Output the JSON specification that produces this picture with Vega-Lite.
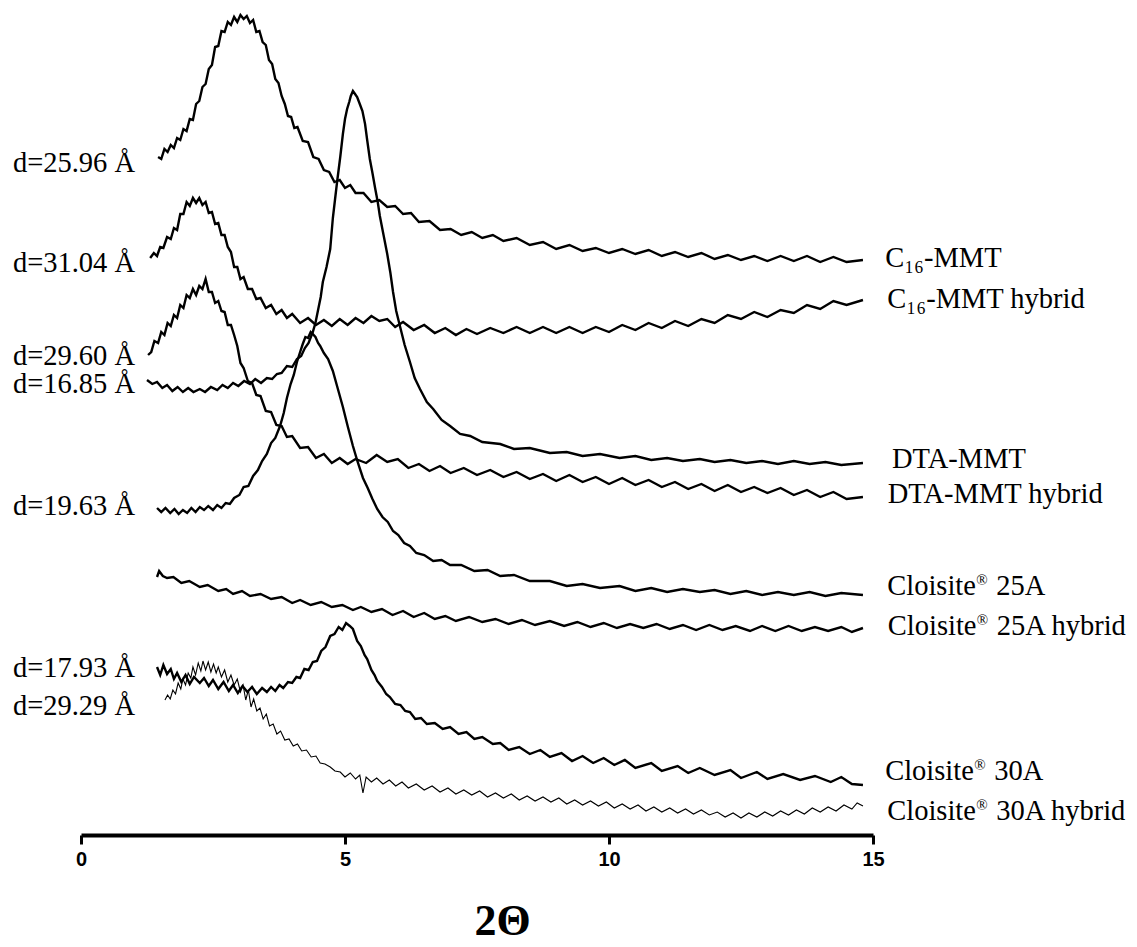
{
"$schema": "https://vega.github.io/schema/vega-lite/v6.json",
"width": 792,
"height": 835,
"autosize": "none",
"padding": {"left": 81, "top": 0, "right": 264, "bottom": 112},
"config": {"view": {"stroke": null}, "background": "white"},
"datasets": {
"curves": [
{"s":"a","x":1.46,"y":678},{"s":"a","x":1.52,"y":676},{"s":"a","x":1.58,"y":686},{"s":"a","x":1.64,"y":683},{"s":"a","x":1.70,"y":690},{"s":"a","x":1.76,"y":687},{"s":"a","x":1.82,"y":697},{"s":"a","x":1.88,"y":695},{"s":"a","x":1.94,"y":706},{"s":"a","x":2.0,"y":704},{"s":"a","x":2.06,"y":716},{"s":"a","x":2.12,"y":715},{"s":"a","x":2.18,"y":731},{"s":"a","x":2.24,"y":734},{"s":"a","x":2.30,"y":748},{"s":"a","x":2.36,"y":751},{"s":"a","x":2.42,"y":766},{"s":"a","x":2.48,"y":770},{"s":"a","x":2.54,"y":788},{"s":"a","x":2.60,"y":789},{"s":"a","x":2.66,"y":804},{"s":"a","x":2.72,"y":803},{"s":"a","x":2.78,"y":813},{"s":"a","x":2.84,"y":810},{"s":"a","x":2.90,"y":818},{"s":"a","x":2.96,"y":813},{"s":"a","x":3.02,"y":820},{"s":"a","x":3.08,"y":816},{"s":"a","x":3.14,"y":819},{"s":"a","x":3.20,"y":812},{"s":"a","x":3.26,"y":815},{"s":"a","x":3.32,"y":803},{"s":"a","x":3.38,"y":804},{"s":"a","x":3.44,"y":793},{"s":"a","x":3.50,"y":790},{"s":"a","x":3.56,"y":775},{"s":"a","x":3.62,"y":771},{"s":"a","x":3.68,"y":756},{"s":"a","x":3.74,"y":752},{"s":"a","x":3.80,"y":739},{"s":"a","x":3.86,"y":731},{"s":"a","x":3.92,"y":719},{"s":"a","x":3.98,"y":718},{"s":"a","x":4.04,"y":707},{"s":"a","x":4.10,"y":708},{"s":"a","x":4.2,"y":694},{"s":"a","x":4.3,"y":693},{"s":"a","x":4.4,"y":678},{"s":"a","x":4.5,"y":676},{"s":"a","x":4.6,"y":665},{"s":"a","x":4.7,"y":663},{"s":"a","x":4.8,"y":653},{"s":"a","x":4.9,"y":655},{"s":"a","x":5.0,"y":647},{"s":"a","x":5.1,"y":650},{"s":"a","x":5.2,"y":642},{"s":"a","x":5.35,"y":642},{"s":"a","x":5.5,"y":633},{"s":"a","x":5.65,"y":635},{"s":"a","x":5.8,"y":628},{"s":"a","x":5.95,"y":629},{"s":"a","x":6.1,"y":621},{"s":"a","x":6.25,"y":622},{"s":"a","x":6.4,"y":613},{"s":"a","x":6.6,"y":614},{"s":"a","x":6.8,"y":605},{"s":"a","x":7.0,"y":606},{"s":"a","x":7.2,"y":600},{"s":"a","x":7.4,"y":603},{"s":"a","x":7.6,"y":597},{"s":"a","x":7.8,"y":600},{"s":"a","x":8.0,"y":594},{"s":"a","x":8.25,"y":597},{"s":"a","x":8.5,"y":590},{"s":"a","x":8.75,"y":593},{"s":"a","x":9.0,"y":586},{"s":"a","x":9.25,"y":590},{"s":"a","x":9.5,"y":584},{"s":"a","x":9.75,"y":587},{"s":"a","x":10.0,"y":582},{"s":"a","x":10.25,"y":586},{"s":"a","x":10.5,"y":581},{"s":"a","x":10.75,"y":585},{"s":"a","x":11.0,"y":579},{"s":"a","x":11.25,"y":583},{"s":"a","x":11.5,"y":578},{"s":"a","x":11.75,"y":582},{"s":"a","x":12.0,"y":576},{"s":"a","x":12.25,"y":580},{"s":"a","x":12.5,"y":575},{"s":"a","x":12.75,"y":579},{"s":"a","x":13.0,"y":574},{"s":"a","x":13.25,"y":579},{"s":"a","x":13.5,"y":574},{"s":"a","x":13.75,"y":579},{"s":"a","x":14.0,"y":573},{"s":"a","x":14.25,"y":578},{"s":"a","x":14.5,"y":573},{"s":"a","x":14.81,"y":575},
{"s":"b","x":1.31,"y":577},{"s":"b","x":1.38,"y":582},{"s":"b","x":1.44,"y":579},{"s":"b","x":1.5,"y":588},{"s":"b","x":1.56,"y":587},{"s":"b","x":1.63,"y":598},{"s":"b","x":1.7,"y":596},{"s":"b","x":1.76,"y":607},{"s":"b","x":1.82,"y":605},{"s":"b","x":1.88,"y":621},{"s":"b","x":1.94,"y":621},{"s":"b","x":2.0,"y":633},{"s":"b","x":2.06,"y":629},{"s":"b","x":2.12,"y":637},{"s":"b","x":2.18,"y":632},{"s":"b","x":2.24,"y":637},{"s":"b","x":2.3,"y":630},{"s":"b","x":2.36,"y":633},{"s":"b","x":2.42,"y":622},{"s":"b","x":2.48,"y":623},{"s":"b","x":2.54,"y":611},{"s":"b","x":2.6,"y":612},{"s":"b","x":2.66,"y":600},{"s":"b","x":2.72,"y":600},{"s":"b","x":2.78,"y":588},{"s":"b","x":2.84,"y":583},{"s":"b","x":2.9,"y":568},{"s":"b","x":2.96,"y":568},{"s":"b","x":3.02,"y":556},{"s":"b","x":3.08,"y":558},{"s":"b","x":3.16,"y":546},{"s":"b","x":3.24,"y":546},{"s":"b","x":3.32,"y":536},{"s":"b","x":3.4,"y":537},{"s":"b","x":3.5,"y":527},{"s":"b","x":3.6,"y":530},{"s":"b","x":3.7,"y":521},{"s":"b","x":3.8,"y":525},{"s":"b","x":3.9,"y":517},{"s":"b","x":4.0,"y":521},{"s":"b","x":4.15,"y":512},{"s":"b","x":4.3,"y":517},{"s":"b","x":4.45,"y":510},{"s":"b","x":4.6,"y":515},{"s":"b","x":4.75,"y":509},{"s":"b","x":4.9,"y":516},{"s":"b","x":5.05,"y":510},{"s":"b","x":5.2,"y":517},{"s":"b","x":5.35,"y":512},{"s":"b","x":5.5,"y":519},{"s":"b","x":5.65,"y":514},{"s":"b","x":5.8,"y":516},{"s":"b","x":5.95,"y":508},{"s":"b","x":6.1,"y":513},{"s":"b","x":6.3,"y":505},{"s":"b","x":6.5,"y":510},{"s":"b","x":6.7,"y":502},{"s":"b","x":6.9,"y":507},{"s":"b","x":7.1,"y":500},{"s":"b","x":7.3,"y":506},{"s":"b","x":7.5,"y":501},{"s":"b","x":7.75,"y":507},{"s":"b","x":8.0,"y":502},{"s":"b","x":8.25,"y":508},{"s":"b","x":8.5,"y":502},{"s":"b","x":8.75,"y":508},{"s":"b","x":9.0,"y":502},{"s":"b","x":9.25,"y":508},{"s":"b","x":9.5,"y":502},{"s":"b","x":9.75,"y":508},{"s":"b","x":10.0,"y":503},{"s":"b","x":10.25,"y":510},{"s":"b","x":10.5,"y":505},{"s":"b","x":10.75,"y":512},{"s":"b","x":11.0,"y":507},{"s":"b","x":11.25,"y":514},{"s":"b","x":11.5,"y":509},{"s":"b","x":11.75,"y":516},{"s":"b","x":12.0,"y":512},{"s":"b","x":12.25,"y":520},{"s":"b","x":12.5,"y":516},{"s":"b","x":12.75,"y":523},{"s":"b","x":13.0,"y":518},{"s":"b","x":13.25,"y":525},{"s":"b","x":13.5,"y":522},{"s":"b","x":13.75,"y":530},{"s":"b","x":14.0,"y":526},{"s":"b","x":14.25,"y":534},{"s":"b","x":14.5,"y":530},{"s":"b","x":14.81,"y":535},
{"s":"c","x":1.27,"y":480},{"s":"c","x":1.33,"y":483},{"s":"c","x":1.39,"y":494},{"s":"c","x":1.46,"y":492},{"s":"c","x":1.52,"y":503},{"s":"c","x":1.58,"y":500},{"s":"c","x":1.64,"y":512},{"s":"c","x":1.7,"y":509},{"s":"c","x":1.76,"y":520},{"s":"c","x":1.82,"y":517},{"s":"c","x":1.88,"y":530},{"s":"c","x":1.94,"y":527},{"s":"c","x":2.0,"y":540},{"s":"c","x":2.06,"y":537},{"s":"c","x":2.12,"y":546},{"s":"c","x":2.18,"y":540},{"s":"c","x":2.24,"y":549},{"s":"c","x":2.3,"y":546},{"s":"c","x":2.36,"y":556},{"s":"c","x":2.42,"y":543},{"s":"c","x":2.48,"y":543},{"s":"c","x":2.54,"y":532},{"s":"c","x":2.6,"y":534},{"s":"c","x":2.66,"y":524},{"s":"c","x":2.72,"y":523},{"s":"c","x":2.78,"y":510},{"s":"c","x":2.84,"y":510},{"s":"c","x":2.9,"y":500},{"s":"c","x":2.96,"y":489},{"s":"c","x":3.02,"y":472},{"s":"c","x":3.08,"y":467},{"s":"c","x":3.16,"y":454},{"s":"c","x":3.24,"y":452},{"s":"c","x":3.32,"y":440},{"s":"c","x":3.4,"y":439},{"s":"c","x":3.5,"y":424},{"s":"c","x":3.6,"y":423},{"s":"c","x":3.7,"y":410},{"s":"c","x":3.8,"y":409},{"s":"c","x":3.9,"y":398},{"s":"c","x":4.0,"y":399},{"s":"c","x":4.15,"y":387},{"s":"c","x":4.3,"y":388},{"s":"c","x":4.45,"y":377},{"s":"c","x":4.6,"y":381},{"s":"c","x":4.75,"y":372},{"s":"c","x":4.9,"y":377},{"s":"c","x":5.05,"y":371},{"s":"c","x":5.2,"y":376},{"s":"c","x":5.4,"y":372},{"s":"c","x":5.6,"y":380},{"s":"c","x":5.8,"y":373},{"s":"c","x":6.0,"y":376},{"s":"c","x":6.2,"y":367},{"s":"c","x":6.4,"y":371},{"s":"c","x":6.6,"y":364},{"s":"c","x":6.8,"y":369},{"s":"c","x":7.0,"y":362},{"s":"c","x":7.25,"y":367},{"s":"c","x":7.5,"y":360},{"s":"c","x":7.75,"y":365},{"s":"c","x":8.0,"y":358},{"s":"c","x":8.25,"y":363},{"s":"c","x":8.5,"y":356},{"s":"c","x":8.75,"y":361},{"s":"c","x":9.0,"y":354},{"s":"c","x":9.25,"y":360},{"s":"c","x":9.5,"y":353},{"s":"c","x":9.75,"y":358},{"s":"c","x":10.0,"y":351},{"s":"c","x":10.25,"y":357},{"s":"c","x":10.5,"y":350},{"s":"c","x":10.75,"y":355},{"s":"c","x":11.0,"y":348},{"s":"c","x":11.25,"y":353},{"s":"c","x":11.5,"y":346},{"s":"c","x":11.75,"y":351},{"s":"c","x":12.0,"y":344},{"s":"c","x":12.25,"y":350},{"s":"c","x":12.5,"y":343},{"s":"c","x":12.75,"y":348},{"s":"c","x":13.0,"y":342},{"s":"c","x":13.25,"y":347},{"s":"c","x":13.5,"y":340},{"s":"c","x":13.75,"y":345},{"s":"c","x":14.0,"y":338},{"s":"c","x":14.25,"y":343},{"s":"c","x":14.5,"y":336},{"s":"c","x":14.81,"y":338},
{"s":"d","x":1.25,"y":455},{"s":"d","x":1.35,"y":451},{"s":"d","x":1.44,"y":453},{"s":"d","x":1.54,"y":447},{"s":"d","x":1.63,"y":450},{"s":"d","x":1.73,"y":444},{"s":"d","x":1.83,"y":448},{"s":"d","x":1.93,"y":443},{"s":"d","x":2.03,"y":447},{"s":"d","x":2.13,"y":443},{"s":"d","x":2.25,"y":446},{"s":"d","x":2.35,"y":443},{"s":"d","x":2.46,"y":448},{"s":"d","x":2.58,"y":445},{"s":"d","x":2.68,"y":450},{"s":"d","x":2.78,"y":447},{"s":"d","x":2.88,"y":452},{"s":"d","x":2.98,"y":449},{"s":"d","x":3.09,"y":454},{"s":"d","x":3.2,"y":451},{"s":"d","x":3.3,"y":456},{"s":"d","x":3.41,"y":452},{"s":"d","x":3.52,"y":457},{"s":"d","x":3.62,"y":456},{"s":"d","x":3.71,"y":461},{"s":"d","x":3.8,"y":462},{"s":"d","x":3.9,"y":469},{"s":"d","x":4.0,"y":468},{"s":"d","x":4.09,"y":476},{"s":"d","x":4.17,"y":479},{"s":"d","x":4.24,"y":487},{"s":"d","x":4.31,"y":492},{"s":"d","x":4.39,"y":503},{"s":"d","x":4.44,"y":512},{"s":"d","x":4.49,"y":525},{"s":"d","x":4.54,"y":538},{"s":"d","x":4.58,"y":553},{"s":"d","x":4.65,"y":568},{"s":"d","x":4.72,"y":586},{"s":"d","x":4.77,"y":617},{"s":"d","x":4.81,"y":635},{"s":"d","x":4.85,"y":653},{"s":"d","x":4.91,"y":678},{"s":"d","x":4.96,"y":701},{"s":"d","x":5.0,"y":716},{"s":"d","x":5.04,"y":726},{"s":"d","x":5.08,"y":733},{"s":"d","x":5.11,"y":739},{"s":"d","x":5.15,"y":744},{"s":"d","x":5.19,"y":741},{"s":"d","x":5.23,"y":738},{"s":"d","x":5.28,"y":731},{"s":"d","x":5.33,"y":724},{"s":"d","x":5.38,"y":711},{"s":"d","x":5.42,"y":695},{"s":"d","x":5.47,"y":676},{"s":"d","x":5.52,"y":662},{"s":"d","x":5.57,"y":647},{"s":"d","x":5.62,"y":633},{"s":"d","x":5.66,"y":619},{"s":"d","x":5.73,"y":600},{"s":"d","x":5.8,"y":581},{"s":"d","x":5.86,"y":562},{"s":"d","x":5.91,"y":543},{"s":"d","x":5.97,"y":524},{"s":"d","x":6.04,"y":509},{"s":"d","x":6.13,"y":490},{"s":"d","x":6.23,"y":473},{"s":"d","x":6.32,"y":457},{"s":"d","x":6.42,"y":446},{"s":"d","x":6.55,"y":433},{"s":"d","x":6.67,"y":426},{"s":"d","x":6.83,"y":415},{"s":"d","x":6.99,"y":409},{"s":"d","x":7.18,"y":401},{"s":"d","x":7.37,"y":399},{"s":"d","x":7.6,"y":393},{"s":"d","x":7.94,"y":391},{"s":"d","x":8.2,"y":386},{"s":"d","x":8.5,"y":387},{"s":"d","x":8.88,"y":382},{"s":"d","x":9.2,"y":383},{"s":"d","x":9.5,"y":379},{"s":"d","x":9.83,"y":381},{"s":"d","x":10.2,"y":377},{"s":"d","x":10.5,"y":379},{"s":"d","x":10.8,"y":375},{"s":"d","x":11.1,"y":377},{"s":"d","x":11.4,"y":374},{"s":"d","x":11.72,"y":376},{"s":"d","x":12.0,"y":373},{"s":"d","x":12.3,"y":375},{"s":"d","x":12.6,"y":372},{"s":"d","x":12.9,"y":374},{"s":"d","x":13.2,"y":371},{"s":"d","x":13.5,"y":374},{"s":"d","x":13.8,"y":371},{"s":"d","x":14.1,"y":373},{"s":"d","x":14.4,"y":370},{"s":"d","x":14.81,"y":372},
{"s":"e","x":1.44,"y":327},{"s":"e","x":1.52,"y":323},{"s":"e","x":1.6,"y":327},{"s":"e","x":1.69,"y":322},{"s":"e","x":1.77,"y":326},{"s":"e","x":1.85,"y":321},{"s":"e","x":1.93,"y":325},{"s":"e","x":2.01,"y":322},{"s":"e","x":2.09,"y":327},{"s":"e","x":2.17,"y":323},{"s":"e","x":2.25,"y":328},{"s":"e","x":2.33,"y":325},{"s":"e","x":2.41,"y":329},{"s":"e","x":2.5,"y":325},{"s":"e","x":2.58,"y":330},{"s":"e","x":2.66,"y":327},{"s":"e","x":2.74,"y":332},{"s":"e","x":2.82,"y":331},{"s":"e","x":2.9,"y":337},{"s":"e","x":3.0,"y":340},{"s":"e","x":3.08,"y":348},{"s":"e","x":3.17,"y":349},{"s":"e","x":3.26,"y":359},{"s":"e","x":3.35,"y":365},{"s":"e","x":3.43,"y":374},{"s":"e","x":3.52,"y":381},{"s":"e","x":3.6,"y":392},{"s":"e","x":3.68,"y":397},{"s":"e","x":3.77,"y":409},{"s":"e","x":3.84,"y":422},{"s":"e","x":3.9,"y":437},{"s":"e","x":3.97,"y":451},{"s":"e","x":4.03,"y":460},{"s":"e","x":4.09,"y":473},{"s":"e","x":4.15,"y":483},{"s":"e","x":4.2,"y":491},{"s":"e","x":4.25,"y":498},{"s":"e","x":4.3,"y":497},{"s":"e","x":4.35,"y":503},{"s":"e","x":4.39,"y":501},{"s":"e","x":4.44,"y":498},{"s":"e","x":4.49,"y":492},{"s":"e","x":4.53,"y":489},{"s":"e","x":4.6,"y":482},{"s":"e","x":4.68,"y":476},{"s":"e","x":4.77,"y":464},{"s":"e","x":4.86,"y":447},{"s":"e","x":4.96,"y":428},{"s":"e","x":5.05,"y":409},{"s":"e","x":5.15,"y":389},{"s":"e","x":5.24,"y":373},{"s":"e","x":5.34,"y":357},{"s":"e","x":5.43,"y":347},{"s":"e","x":5.52,"y":336},{"s":"e","x":5.61,"y":326},{"s":"e","x":5.71,"y":318},{"s":"e","x":5.81,"y":313},{"s":"e","x":5.91,"y":304},{"s":"e","x":6.01,"y":300},{"s":"e","x":6.12,"y":292},{"s":"e","x":6.23,"y":289},{"s":"e","x":6.35,"y":282},{"s":"e","x":6.5,"y":280},{"s":"e","x":6.67,"y":274},{"s":"e","x":6.83,"y":275},{"s":"e","x":6.99,"y":270},{"s":"e","x":7.2,"y":270},{"s":"e","x":7.45,"y":264},{"s":"e","x":7.7,"y":265},{"s":"e","x":7.94,"y":259},{"s":"e","x":8.2,"y":260},{"s":"e","x":8.5,"y":254},{"s":"e","x":8.88,"y":254},{"s":"e","x":9.2,"y":249},{"s":"e","x":9.5,"y":251},{"s":"e","x":9.83,"y":247},{"s":"e","x":10.2,"y":249},{"s":"e","x":10.5,"y":244},{"s":"e","x":10.8,"y":247},{"s":"e","x":11.1,"y":243},{"s":"e","x":11.4,"y":246},{"s":"e","x":11.72,"y":243},{"s":"e","x":12.0,"y":245},{"s":"e","x":12.3,"y":241},{"s":"e","x":12.6,"y":244},{"s":"e","x":12.9,"y":240},{"s":"e","x":13.2,"y":243},{"s":"e","x":13.5,"y":240},{"s":"e","x":13.8,"y":243},{"s":"e","x":14.1,"y":239},{"s":"e","x":14.4,"y":242},{"s":"e","x":14.81,"y":240},
{"s":"f","x":1.44,"y":258},{"s":"f","x":1.48,"y":264},{"s":"f","x":1.55,"y":259},{"s":"f","x":1.63,"y":257},{"s":"f","x":1.75,"y":258},{"s":"f","x":1.9,"y":252},{"s":"f","x":2.05,"y":254},{"s":"f","x":2.25,"y":248},{"s":"f","x":2.4,"y":250},{"s":"f","x":2.6,"y":244},{"s":"f","x":2.75,"y":246},{"s":"f","x":2.88,"y":241},{"s":"f","x":3.05,"y":244},{"s":"f","x":3.2,"y":239},{"s":"f","x":3.4,"y":241},{"s":"f","x":3.6,"y":236},{"s":"f","x":3.8,"y":238},{"s":"f","x":4.0,"y":232},{"s":"f","x":4.15,"y":235},{"s":"f","x":4.35,"y":230},{"s":"f","x":4.55,"y":233},{"s":"f","x":4.75,"y":228},{"s":"f","x":4.95,"y":230},{"s":"f","x":5.15,"y":225},{"s":"f","x":5.3,"y":228},{"s":"f","x":5.5,"y":223},{"s":"f","x":5.7,"y":226},{"s":"f","x":5.9,"y":220},{"s":"f","x":6.1,"y":224},{"s":"f","x":6.3,"y":218},{"s":"f","x":6.5,"y":222},{"s":"f","x":6.7,"y":216},{"s":"f","x":6.9,"y":219},{"s":"f","x":7.1,"y":214},{"s":"f","x":7.35,"y":218},{"s":"f","x":7.6,"y":213},{"s":"f","x":7.85,"y":216},{"s":"f","x":8.1,"y":211},{"s":"f","x":8.35,"y":215},{"s":"f","x":8.6,"y":210},{"s":"f","x":8.88,"y":214},{"s":"f","x":9.15,"y":209},{"s":"f","x":9.4,"y":213},{"s":"f","x":9.65,"y":208},{"s":"f","x":9.9,"y":212},{"s":"f","x":10.15,"y":207},{"s":"f","x":10.4,"y":211},{"s":"f","x":10.65,"y":207},{"s":"f","x":10.9,"y":211},{"s":"f","x":11.15,"y":206},{"s":"f","x":11.4,"y":210},{"s":"f","x":11.65,"y":205},{"s":"f","x":11.9,"y":210},{"s":"f","x":12.15,"y":205},{"s":"f","x":12.4,"y":209},{"s":"f","x":12.67,"y":204},{"s":"f","x":12.9,"y":209},{"s":"f","x":13.15,"y":204},{"s":"f","x":13.4,"y":209},{"s":"f","x":13.65,"y":204},{"s":"f","x":13.9,"y":208},{"s":"f","x":14.15,"y":204},{"s":"f","x":14.4,"y":208},{"s":"f","x":14.6,"y":203},{"s":"f","x":14.81,"y":207},
{"s":"g","x":1.44,"y":168},{"s":"g","x":1.5,"y":160},{"s":"g","x":1.56,"y":170},{"s":"g","x":1.63,"y":161},{"s":"g","x":1.7,"y":166},{"s":"g","x":1.76,"y":156},{"s":"g","x":1.82,"y":162},{"s":"g","x":1.9,"y":153},{"s":"g","x":1.98,"y":160},{"s":"g","x":2.06,"y":151},{"s":"g","x":2.14,"y":158},{"s":"g","x":2.25,"y":152},{"s":"g","x":2.33,"y":157},{"s":"g","x":2.42,"y":149},{"s":"g","x":2.5,"y":155},{"s":"g","x":2.6,"y":146},{"s":"g","x":2.7,"y":153},{"s":"g","x":2.8,"y":144},{"s":"g","x":2.88,"y":150},{"s":"g","x":2.97,"y":142},{"s":"g","x":3.06,"y":149},{"s":"g","x":3.15,"y":143},{"s":"g","x":3.24,"y":148},{"s":"g","x":3.33,"y":141},{"s":"g","x":3.43,"y":147},{"s":"g","x":3.52,"y":143},{"s":"g","x":3.6,"y":148},{"s":"g","x":3.68,"y":144},{"s":"g","x":3.76,"y":150},{"s":"g","x":3.83,"y":147},{"s":"g","x":3.92,"y":153},{"s":"g","x":4.0,"y":152},{"s":"g","x":4.08,"y":158},{"s":"g","x":4.15,"y":157},{"s":"g","x":4.23,"y":166},{"s":"g","x":4.31,"y":165},{"s":"g","x":4.39,"y":173},{"s":"g","x":4.47,"y":174},{"s":"g","x":4.55,"y":184},{"s":"g","x":4.63,"y":188},{"s":"g","x":4.72,"y":199},{"s":"g","x":4.8,"y":201},{"s":"g","x":4.88,"y":208},{"s":"g","x":4.95,"y":205},{"s":"g","x":5.02,"y":212},{"s":"g","x":5.09,"y":209},{"s":"g","x":5.15,"y":206},{"s":"g","x":5.23,"y":194},{"s":"g","x":5.3,"y":189},{"s":"g","x":5.37,"y":180},{"s":"g","x":5.42,"y":176},{"s":"g","x":5.5,"y":165},{"s":"g","x":5.56,"y":160},{"s":"g","x":5.61,"y":154},{"s":"g","x":5.7,"y":148},{"s":"g","x":5.78,"y":141},{"s":"g","x":5.85,"y":138},{"s":"g","x":5.95,"y":131},{"s":"g","x":6.05,"y":130},{"s":"g","x":6.14,"y":124},{"s":"g","x":6.23,"y":123},{"s":"g","x":6.33,"y":116},{"s":"g","x":6.44,"y":117},{"s":"g","x":6.55,"y":111},{"s":"g","x":6.7,"y":112},{"s":"g","x":6.85,"y":106},{"s":"g","x":6.99,"y":108},{"s":"g","x":7.15,"y":101},{"s":"g","x":7.3,"y":103},{"s":"g","x":7.45,"y":96},{"s":"g","x":7.6,"y":98},{"s":"g","x":7.8,"y":91},{"s":"g","x":7.94,"y":92},{"s":"g","x":8.1,"y":85},{"s":"g","x":8.3,"y":88},{"s":"g","x":8.5,"y":81},{"s":"g","x":8.7,"y":85},{"s":"g","x":8.88,"y":78},{"s":"g","x":9.1,"y":82},{"s":"g","x":9.3,"y":74},{"s":"g","x":9.5,"y":79},{"s":"g","x":9.7,"y":72},{"s":"g","x":9.9,"y":77},{"s":"g","x":10.1,"y":70},{"s":"g","x":10.3,"y":75},{"s":"g","x":10.5,"y":67},{"s":"g","x":10.8,"y":72},{"s":"g","x":11.0,"y":64},{"s":"g","x":11.3,"y":69},{"s":"g","x":11.5,"y":62},{"s":"g","x":11.72,"y":67},{"s":"g","x":12.0,"y":60},{"s":"g","x":12.3,"y":65},{"s":"g","x":12.5,"y":57},{"s":"g","x":12.8,"y":63},{"s":"g","x":13.0,"y":56},{"s":"g","x":13.3,"y":61},{"s":"g","x":13.62,"y":55},{"s":"g","x":13.9,"y":59},{"s":"g","x":14.2,"y":53},{"s":"g","x":14.4,"y":58},{"s":"g","x":14.6,"y":51},{"s":"g","x":14.81,"y":50},
{"s":"h","x":1.59,"y":135},{"s":"h","x":1.64,"y":140},{"s":"h","x":1.69,"y":136},{"s":"h","x":1.74,"y":145},{"s":"h","x":1.79,"y":141},{"s":"h","x":1.84,"y":152},{"s":"h","x":1.89,"y":146},{"s":"h","x":1.93,"y":156},{"s":"h","x":1.98,"y":150},{"s":"h","x":2.03,"y":162},{"s":"h","x":2.08,"y":157},{"s":"h","x":2.12,"y":168},{"s":"h","x":2.17,"y":160},{"s":"h","x":2.22,"y":172},{"s":"h","x":2.27,"y":164},{"s":"h","x":2.31,"y":174},{"s":"h","x":2.36,"y":165},{"s":"h","x":2.41,"y":173},{"s":"h","x":2.46,"y":163},{"s":"h","x":2.51,"y":171},{"s":"h","x":2.56,"y":162},{"s":"h","x":2.6,"y":168},{"s":"h","x":2.66,"y":158},{"s":"h","x":2.72,"y":165},{"s":"h","x":2.78,"y":153},{"s":"h","x":2.84,"y":160},{"s":"h","x":2.9,"y":150},{"s":"h","x":2.96,"y":156},{"s":"h","x":3.02,"y":143},{"s":"h","x":3.07,"y":150},{"s":"h","x":3.12,"y":135},{"s":"h","x":3.17,"y":145},{"s":"h","x":3.22,"y":128},{"s":"h","x":3.27,"y":136},{"s":"h","x":3.33,"y":124},{"s":"h","x":3.39,"y":127},{"s":"h","x":3.45,"y":116},{"s":"h","x":3.51,"y":121},{"s":"h","x":3.57,"y":109},{"s":"h","x":3.64,"y":111},{"s":"h","x":3.71,"y":101},{"s":"h","x":3.78,"y":104},{"s":"h","x":3.86,"y":95},{"s":"h","x":3.94,"y":96},{"s":"h","x":4.02,"y":89},{"s":"h","x":4.1,"y":91},{"s":"h","x":4.18,"y":84},{"s":"h","x":4.27,"y":85},{"s":"h","x":4.36,"y":78},{"s":"h","x":4.45,"y":79},{"s":"h","x":4.53,"y":72},{"s":"h","x":4.62,"y":71},{"s":"h","x":4.72,"y":68},{"s":"h","x":4.81,"y":64},{"s":"h","x":4.91,"y":63},{"s":"h","x":5.0,"y":58},{"s":"h","x":5.1,"y":62},{"s":"h","x":5.2,"y":56},{"s":"h","x":5.28,"y":60},{"s":"h","x":5.34,"y":42},{"s":"h","x":5.4,"y":58},{"s":"h","x":5.5,"y":53},{"s":"h","x":5.6,"y":57},{"s":"h","x":5.72,"y":51},{"s":"h","x":5.84,"y":55},{"s":"h","x":5.96,"y":49},{"s":"h","x":6.08,"y":53},{"s":"h","x":6.2,"y":47},{"s":"h","x":6.35,"y":51},{"s":"h","x":6.5,"y":45},{"s":"h","x":6.65,"y":49},{"s":"h","x":6.8,"y":43},{"s":"h","x":6.95,"y":47},{"s":"h","x":7.1,"y":41},{"s":"h","x":7.25,"y":45},{"s":"h","x":7.4,"y":40},{"s":"h","x":7.55,"y":44},{"s":"h","x":7.7,"y":38},{"s":"h","x":7.85,"y":42},{"s":"h","x":8.0,"y":37},{"s":"h","x":8.15,"y":41},{"s":"h","x":8.3,"y":35},{"s":"h","x":8.45,"y":39},{"s":"h","x":8.6,"y":34},{"s":"h","x":8.75,"y":38},{"s":"h","x":8.9,"y":33},{"s":"h","x":9.05,"y":37},{"s":"h","x":9.2,"y":31},{"s":"h","x":9.35,"y":35},{"s":"h","x":9.5,"y":30},{"s":"h","x":9.65,"y":34},{"s":"h","x":9.8,"y":29},{"s":"h","x":9.95,"y":33},{"s":"h","x":10.1,"y":27},{"s":"h","x":10.25,"y":31},{"s":"h","x":10.4,"y":26},{"s":"h","x":10.55,"y":30},{"s":"h","x":10.7,"y":24},{"s":"h","x":10.85,"y":28},{"s":"h","x":11.0,"y":23},{"s":"h","x":11.15,"y":27},{"s":"h","x":11.3,"y":22},{"s":"h","x":11.45,"y":26},{"s":"h","x":11.6,"y":21},{"s":"h","x":11.75,"y":25},{"s":"h","x":11.9,"y":20},{"s":"h","x":12.05,"y":23},{"s":"h","x":12.2,"y":18},{"s":"h","x":12.35,"y":22},{"s":"h","x":12.5,"y":17},{"s":"h","x":12.65,"y":22},{"s":"h","x":12.8,"y":18},{"s":"h","x":12.95,"y":23},{"s":"h","x":13.1,"y":19},{"s":"h","x":13.25,"y":24},{"s":"h","x":13.4,"y":20},{"s":"h","x":13.55,"y":25},{"s":"h","x":13.7,"y":21},{"s":"h","x":13.85,"y":27},{"s":"h","x":14.0,"y":23},{"s":"h","x":14.15,"y":28},{"s":"h","x":14.3,"y":24},{"s":"h","x":14.45,"y":30},{"s":"h","x":14.6,"y":26},{"s":"h","x":14.7,"y":32},{"s":"h","x":14.81,"y":29}
],
"left": [
{"t":"d=25.96 Å","x":-1.29,"y":663},
{"t":"d=31.04 Å","x":-1.29,"y":563},
{"t":"d=29.60 Å","x":-1.29,"y":470},
{"t":"d=16.85 Å","x":-1.29,"y":442},
{"t":"d=19.63 Å","x":-1.29,"y":320},
{"t":"d=17.93 Å","x":-1.29,"y":158},
{"t":"d=29.29 Å","x":-1.29,"y":120}
],
"right": [
{"t":"C₁₆-MMT","x":15.23,"y":568},
{"t":"C₁₆-MMT hybrid","x":15.27,"y":527},
{"t":"DTA-MMT","x":15.36,"y":367},
{"t":"DTA-MMT hybrid","x":15.28,"y":332}
],
"cloisite": [
{"t":"Cloisite","r":"®","u":"25A","x":15.27,"y":240},
{"t":"Cloisite","r":"®","u":"25A hybrid","x":15.28,"y":200},
{"t":"Cloisite","r":"®","u":"30A","x":15.23,"y":55},
{"t":"Cloisite","r":"®","u":"30A hybrid","x":15.27,"y":15}
]
},
"encoding": {
"x": {"field": "x", "type": "quantitative",
  "scale": {"domain": [0, 15], "nice": false, "zero": false},
  "axis": {"values": [0, 5, 10, 15], "grid": false, "domainColor": "black", "domainWidth": 4, "tickColor": "black", "tickWidth": 3, "tickSize": 9,
    "labelFont": "Liberation Sans", "labelFontWeight": "bold", "labelFontSize": 20, "labelColor": "black", "labelPadding": 5, "labelFlush": false,
    "title": "2Θ", "titleFont": "Liberation Serif", "titleFontWeight": "bold", "titleFontSize": 44, "titleColor": "black",
    "titleX": 421, "titleY": 99, "titleBaseline": "alphabetic", "titleAlign": "center"}},
"y": {"field": "y", "type": "quantitative", "scale": {"domain": [0, 835], "nice": false, "zero": false}, "axis": null}
},
"layer": [
{"data": {"name": "curves"}, "transform": [{"filter": "datum.s !== 'h'"}],
 "mark": {"type": "line", "color": "black", "strokeWidth": 2.4, "strokeJoin": "miter"},
 "encoding": {"detail": {"field": "s"}}},
{"data": {"name": "curves"}, "transform": [{"filter": "datum.s === 'h'"}],
 "mark": {"type": "line", "color": "black", "strokeWidth": 1.1},
 "encoding": {"detail": {"field": "s"}}},
{"data": {"name": "left"},
 "mark": {"type": "text", "align": "left", "baseline": "alphabetic", "font": "Liberation Serif", "fontSize": 28.5, "color": "black"},
 "encoding": {"text": {"field": "t"}}},
{"data": {"name": "right"},
 "mark": {"type": "text", "align": "left", "baseline": "alphabetic", "font": "Liberation Serif", "fontSize": 28.5, "color": "black"},
 "encoding": {"text": {"field": "t"}}},
{"data": {"name": "cloisite"},
 "mark": {"type": "text", "align": "left", "baseline": "alphabetic", "font": "Liberation Serif", "fontSize": 28.5, "color": "black"},
 "encoding": {"text": {"field": "t"}}},
{"data": {"name": "cloisite"},
 "mark": {"type": "text", "align": "left", "baseline": "alphabetic", "font": "Liberation Serif", "fontSize": 15, "color": "black", "dx": 89, "dy": -10},
 "encoding": {"text": {"field": "r"}}},
{"data": {"name": "cloisite"},
 "mark": {"type": "text", "align": "left", "baseline": "alphabetic", "font": "Liberation Serif", "fontSize": 28.5, "color": "black", "dx": 109},
 "encoding": {"text": {"field": "u"}}}
]
}
